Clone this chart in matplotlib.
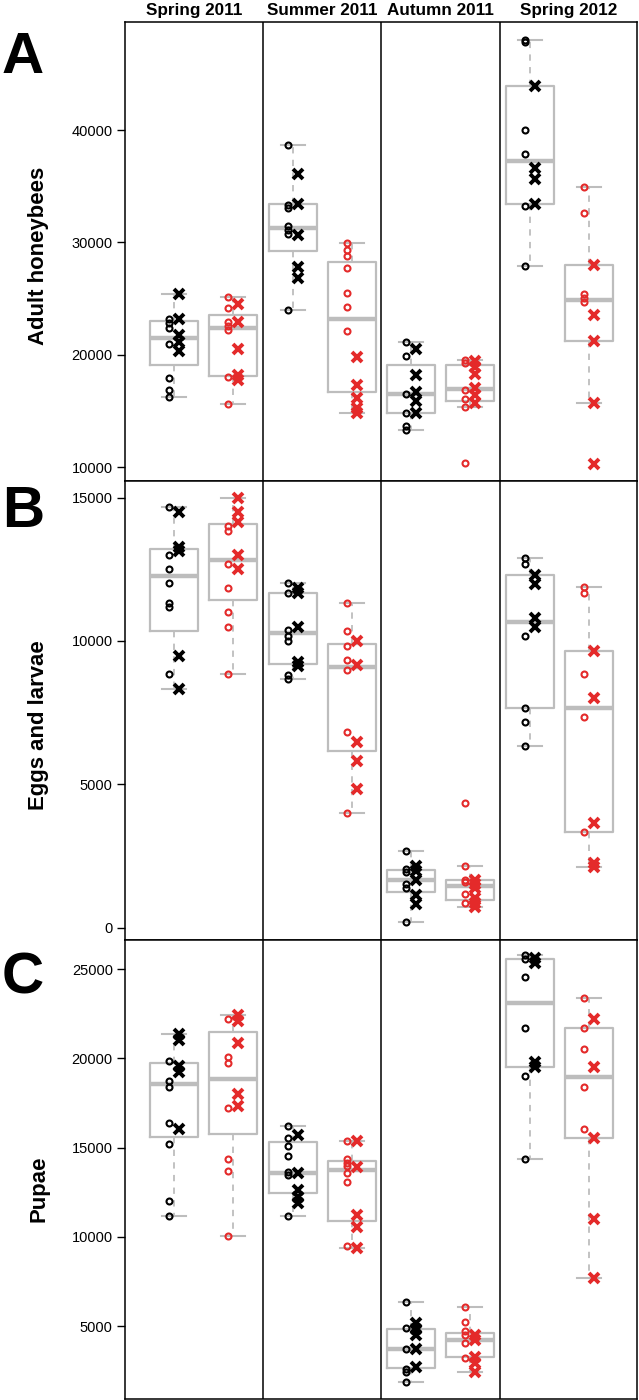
import numpy as np
import matplotlib
matplotlib.use("Agg")
import matplotlib.pyplot as plt

plt.rcParams['font.family'] = ['Liberation Sans', 'DejaVu Sans']

# seasons / groups
seasons = ['Spring 2011', 'Summer 2011', 'Autumn 2011', 'Spring 2012']
group_colors = ['black', 'red']  # left / right box inside each season

# Panel A - adult honeybees (8 groups: season x colour), circles and crosses
adults_open = [
    [23190, 22790, 22390, 20970, 17940, 16880, 16280],
    [25190, 24140, 22920, 22570, 22210, 18030, 15660],
    [38670, 33370, 33020, 31460, 31110, 30710, 23990],
    [29920, 29330, 28790, 27700, 25530, 24280, 22120],
    [21170, 19940, 16560, 14790, 13670, 13360],
    [19540, 19250, 16830, 16080, 15340, 10380],
    [48050, 47830, 40000, 37870, 33240, 27930],
    [34960, 32650, 25410, 25060, 24700],
]
adults_cross = [
    [25410, 23150, 21770, 21150, 20340],
    [24520, 22880, 20520, 18210, 17770],
    [36060, 33420, 30660, 27840, 26810],
    [19840, 17320, 16140, 15270, 14830],
    [20480, 18210, 16700, 15900, 14790],
    [19460, 18920, 18340, 17010, 16430, 15680],
    [43910, 36590, 35640, 33390],
    [27990, 23550, 21260, 15750, 10290],
]

# Panel B - eggs and larvae
brood_open = [
    [14690, 13000, 12510, 12010, 11320, 11180, 8850],
    [14020, 13840, 12680, 11840, 11000, 10500, 8850],
    [12010, 11680, 10370, 10190, 10000, 8820, 8660],
    [11340, 10340, 9830, 9350, 9000, 6840, 4010],
    [2670, 2050, 1930, 1520, 1370, 190],
    [4340, 2160, 1680, 1590, 1180, 850],
    [12890, 12680, 10190, 7670, 7170, 6340],
    [11900, 11670, 8850, 7340, 3350],
]
brood_cross = [
    [14490, 13290, 13140, 9490, 8320],
    [14980, 14510, 14160, 13000, 12500],
    [11840, 11680, 10500, 9280, 9110],
    [9990, 9160, 6490, 5830, 4830],
    [2150, 1980, 1660, 1140, 810],
    [1680, 1540, 1390, 1040, 860, 720],
    [12290, 12000, 10790, 10500],
    [9650, 8000, 3660, 2250, 2130],
]

# Panel C - pupae
pupae_open = [
    [19860, 18740, 18410, 16390, 15200, 12020, 11180],
    [22200, 20090, 19720, 17200, 14360, 13700, 10040],
    [16210, 15520, 15060, 14550, 13640, 13460, 11180],
    [15360, 14340, 14150, 13940, 13560, 13050, 9510],
    [6370, 4870, 3700, 2590, 2400, 1890],
    [6040, 5200, 4720, 4520, 4030, 3210],
    [25780, 25540, 24540, 21710, 19020, 14360],
    [23360, 21710, 20520, 18370, 16040],
]
pupae_cross = [
    [21360, 21020, 19570, 19250, 16020],
    [22420, 22090, 20840, 18000, 17340],
    [15700, 13560, 12620, 12240, 11870],
    [15360, 13890, 11220, 10560, 9350],
    [5170, 4830, 4500, 3700, 2720],
    [4520, 4220, 3280, 2910, 2400],
    [25600, 25320, 19810, 19530],
    [22180, 19530, 15520, 11000, 7700],
]

panel_letters = ['A', 'B', 'C']
ylabels = ['Adult honeybees', 'Eggs and larvae', 'Pupae']
yticks = [[10000, 20000, 30000, 40000],
          [0, 5000, 10000, 15000],
          [5000, 10000, 15000, 20000, 25000]]
ylims = [(8780, 49580), (-440, 15580), (894, 26610)]

RED = '#e42a2a'
GREY = '#bdbdbd'


def fivenum(v):
    # Tukey hinges, like R's boxplot
    x = np.sort(np.asarray(v, dtype=float))
    n = len(x)
    n4 = np.floor((n + 3) / 2) / 2
    d = np.array([1, n4, (n + 1) / 2, n + 1 - n4, n]) - 1
    return 0.5 * (x[np.floor(d).astype(int)] + x[np.ceil(d).astype(int)])


def box_stats(v):
    x = np.asarray(v, dtype=float)
    mn, q1, med, q3, mx = fivenum(x)
    iqr = q3 - q1
    lo = x[x >= q1 - 1.5 * iqr].min()
    hi = x[x <= q3 + 1.5 * iqr].max()
    return dict(med=med, q1=q1, q3=q3, whislo=lo, whishi=hi, fliers=[])


fig = plt.figure(figsize=(6.39, 14.0), dpi=100)
W, H = 639.0, 1400.0
left, right = 125 / W, 637 / W
tops = [22.3, 481.0, 940.3]
bots = [481.0, 940.3, 1399.3]
xlim = (0.174, 8.81)
dividers = [2.5, 4.5, 6.5]

panels = [(adults_open, adults_cross), (brood_open, brood_cross), (pupae_open, pupae_cross)]
label_y = [256, 725, 1189]
letter_base = [73, 527, 994]

for p, (opens, crosses) in enumerate(panels):
    ax = fig.add_axes([left, 1 - bots[p] / H, right - left, (bots[p] - tops[p]) / H])
    for i in range(8):
        pos = i + 1
        col = 'black' if i % 2 == 0 else RED
        st = box_stats(opens[i] + crosses[i])
        ax.bxp([st], positions=[pos], widths=0.81, showfliers=False,
               boxprops=dict(color=GREY, lw=1.6),
               whiskerprops=dict(color=GREY, lw=1.3, linestyle=(0, (3.5, 3.5))),
               capprops=dict(color=GREY, lw=1.5),
               medianprops=dict(color=GREY, lw=3.2), manage_ticks=False)
        ax.plot([pos - 0.085] * len(opens[i]), opens[i], 'o', ms=4.3, mfc='none',
                mec=col, mew=1.5, zorder=4)
        ax.plot([pos + 0.085] * len(crosses[i]), crosses[i], 'x', ms=6.8,
                mec=col, mew=2.8, zorder=5)
    for xd in dividers:
        ax.axvline(xd, color='black', lw=1.1)
    ax.set_xlim(*xlim)
    ax.set_ylim(*ylims[p])
    ax.set_xticks([])
    ax.set_yticks(yticks[p])
    ax.set_yticklabels([str(t) for t in yticks[p]])
    ax.tick_params(axis='y', direction='out', length=5.8, width=1.0, labelsize=10.5, pad=3)
    for s in ax.spines.values():
        s.set_linewidth(1.1)
        s.set_color('black')

    if p == 0:
        bounds = [xlim[0]] + dividers + [xlim[1]]
        for k, name in enumerate(seasons):
            xc = (bounds[k] + bounds[k + 1]) / 2
            ax.annotate(name, xy=(xc, 1), xycoords=('data', 'axes fraction'),
                        xytext=(0, 8.3), textcoords='offset points',
                        ha='center', va='center', fontsize=12.3, fontweight='bold')

    fig.text(2 / W, 1 - letter_base[p] / H, panel_letters[p], ha='left', va='baseline',
             fontsize=42, fontweight='bold')
    fig.text(39 / W, 1 - label_y[p] / H, ylabels[p], rotation=90, ha='center', va='center',
             fontsize=15.9, fontweight='bold')

fig.savefig('out.png', dpi=100)
